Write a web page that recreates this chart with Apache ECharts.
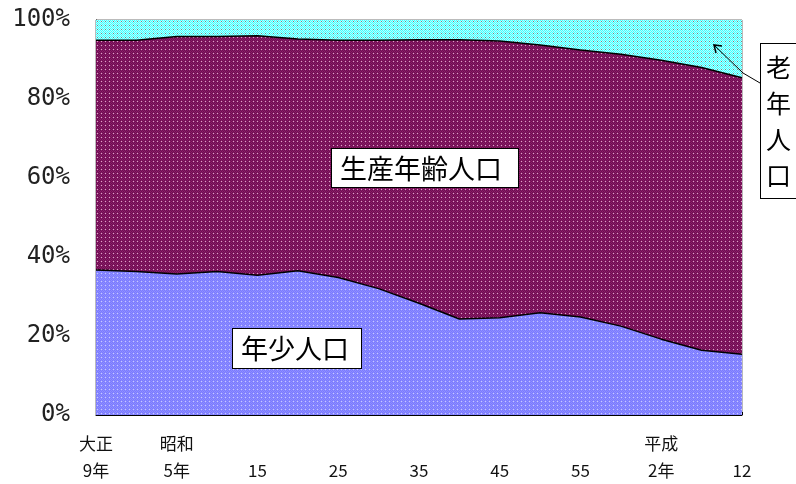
<!DOCTYPE html>
<html>
<head>
<meta charset="utf-8">
<script src="https://cdn.jsdelivr.net/npm/echarts@6/dist/echarts.min.js"></script>
<style>
  html, body { margin: 0; padding: 0; background: #ffffff; }
  #chart { width: 796px; height: 484px; }
</style>
</head>
<body>
<div id="chart"></div>
<script>
// Census years (every 5 years, 1920 - 2000)
const years = ['1920','1925','1930','1935','1940','1945','1950','1955','1960',
               '1965','1970','1975','1980','1985','1990','1995','2000'];

// Era-style tick labels, one per census year (blank = no label)
const tickLabels = ['大正\n9年','','昭和\n5年','','\n15','','\n25','','\n35','',
                    '\n45','','\n55','','平成\n2年','','\n12'];

const yTicks = [0, 20, 40, 60, 80, 100];

// Share of total population (%)
const youth   = [36.7, 36.3, 35.7, 36.3, 35.4, 36.5, 34.8, 32.0, 28.3,
                 24.3, 24.6, 25.9, 24.8, 22.5, 19.2, 16.4, 15.4];
const working = [58.2, 58.6, 60.1, 59.5, 60.6, 58.7, 60.1, 62.9, 66.7,
                 70.7, 70.1, 67.8, 67.6, 68.8, 70.6, 71.6, 70.0];
const elderly = [5.1, 5.1, 4.2, 4.2, 4.0, 4.8, 5.1, 5.1, 5.0,
                 5.0, 5.3, 6.3, 7.6, 8.7, 10.2, 12.0, 14.6];

// Small pixel-pattern fills built on canvases
function pattern(rows, palette) {
  const c = document.createElement('canvas');
  c.width = rows[0].length;
  c.height = rows.length;
  const ctx = c.getContext('2d');
  rows.forEach((row, y) => {
    for (let x = 0; x < row.length; x++) {
      ctx.fillStyle = palette[row[x]];
      ctx.fillRect(x, y, 1, 1);
    }
  });
  return { image: c, repeat: 'repeat' };
}

const bluePattern = pattern(['ABAB', 'BWBA', 'ABAB', 'BABA'],
  { A: '#7a7aff', B: '#8e8eff', W: '#c8c8ff' });
const purplePattern = pattern(['ABAB', 'BWBA', 'ABAB', 'BABA'],
  { A: '#6c0e52', B: '#8c1c66', W: '#d8a8c8' });
const cyanPattern = pattern(['ABAB', 'BGBA', 'ABAB', 'BABA'],
  { A: '#40ffff', B: '#b8ffff', G: '#6c8c8c' });

const chart = echarts.init(document.getElementById('chart'));

const boxText = {
  fontFamily: '"Noto Sans CJK JP", sans-serif',
  fill: '#000',
  backgroundColor: '#ffffff',
  borderColor: '#000000',
  borderWidth: 1
};

chart.setOption({
  animation: false,
  backgroundColor: '#ffffff',
  grid: {
    left: 96, right: 54, top: 20, bottom: 69,
    show: true, borderColor: '#777777', borderWidth: 1,
    backgroundColor: 'transparent'
  },
  xAxis: {
    type: 'category',
    data: years,
    boundaryGap: false,
    axisLine: { show: true, lineStyle: { color: '#000', width: 1 } },
    axisTick: { show: true, inside: true, length: 3, interval: 0,
                lineStyle: { color: '#000' } },
    axisLabel: {
      interval: 0,
      margin: 15,
      fontSize: 17,
      lineHeight: 27,
      color: '#111',
      fontFamily: '"Noto Sans CJK JP", sans-serif',
      formatter: (v, i) => tickLabels[i]
    },
    splitLine: { show: false }
  },
  yAxis: {
    type: 'value',
    min: yTicks[0],
    max: yTicks[yTicks.length - 1],
    interval: 20,
    axisLine: { show: true, lineStyle: { color: '#000', width: 1 } },
    axisTick: { show: true, inside: true, length: 5,
                lineStyle: { color: '#000' } },
    axisLabel: {
      margin: 26,
      fontSize: 24,
      color: '#222',
      fontFamily: '"DejaVu Sans Mono", monospace',
      formatter: '{value}%'
    },
    splitLine: { show: false }
  },
  series: [
    {
      name: '年少人口', type: 'line', stack: 'pop', data: youth,
      showSymbol: false, symbol: 'none',
      lineStyle: { color: '#000', width: 1.5 },
      areaStyle: { color: bluePattern, opacity: 1 }
    },
    {
      name: '生産年齢人口', type: 'line', stack: 'pop', data: working,
      showSymbol: false, symbol: 'none',
      lineStyle: { color: '#000', width: 1.5 },
      areaStyle: { color: purplePattern, opacity: 1 }
    },
    {
      name: '老年人口', type: 'line', stack: 'pop', data: elderly,
      showSymbol: false, symbol: 'none',
      lineStyle: { width: 0 },
      areaStyle: { color: cyanPattern, opacity: 1 }
    }
  ],
  graphic: [
    {
      type: 'text', left: 331, top: 148, z: 100,
      style: Object.assign({}, boxText, {
        text: '生産年齢人口', fontSize: 27, padding: [6, 16, 5, 8]
      })
    },
    {
      type: 'text', left: 232, top: 328, z: 100,
      style: Object.assign({}, boxText, {
        text: '年少人口', fontSize: 27, padding: [6, 12, 6, 8]
      })
    },
    {
      type: 'text', left: 760, top: 43, z: 100,
      style: Object.assign({}, boxText, {
        text: '老\n年\n人\n口', fontSize: 25, lineHeight: 36,
        padding: [5, 12, 5, 5]
      })
    },
    {
      type: 'polyline', z: 100,
      shape: { points: [[760, 83], [743, 73], [714, 45]] },
      style: { stroke: '#000', lineWidth: 1, fill: null }
    },
    {
      type: 'polyline', z: 100,
      shape: { points: [[722, 46], [714, 45], [716, 53]] },
      style: { stroke: '#000', lineWidth: 1.5, fill: null }
    }
  ]
});
</script>
</body>
</html>
